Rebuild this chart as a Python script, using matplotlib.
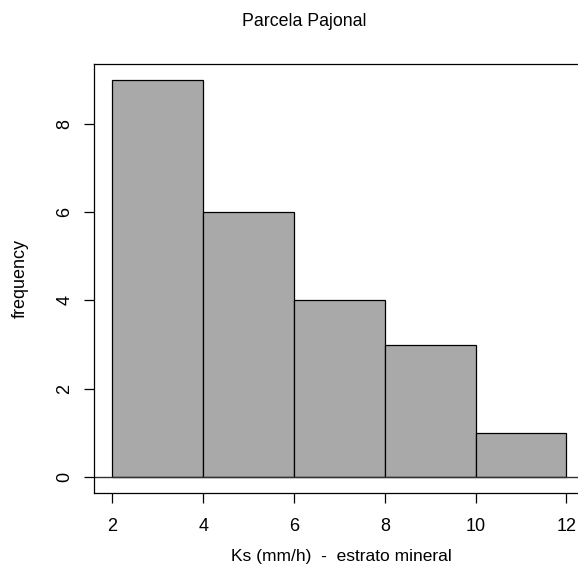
import matplotlib
matplotlib.use("Agg")
from matplotlib import pyplot as plt
import numpy as np

plt.rcParams['font.family'] = ['Liberation Sans', 'DejaVu Sans']

bin_edges = [2, 4, 6, 8, 10, 12]
counts = [9, 6, 4, 3, 1]
x_ticks = [2, 4, 6, 8, 10, 12]
y_ticks = [0, 2, 4, 6, 8]

W, H = 578, 568
fig = plt.figure(figsize=(W / 100, H / 100), dpi=100)
ax = fig.add_axes([94.3 / W, (H - 492.7) / H, 490.3 / W, 428.7 / H])

edges = np.array(bin_edges)
ax.bar(edges[:-1], counts, width=np.diff(edges), align='edge',
       color='#a9a9a9', edgecolor='black', linewidth=0.9)
ax.axhline(0, color='#333333', linewidth=1.0)

ax.set_xlim(1.6, 12.4)
ax.set_ylim(-0.36, 9.36)
ax.set_xticks(x_ticks)
ax.set_yticks(y_ticks)
ax.tick_params(length=7.5, width=0.9, labelsize=13)
ax.tick_params(axis='x', pad=11)
ax.tick_params(axis='y', pad=7.5)
for lab in ax.get_yticklabels():
    lab.set_rotation(90)
    lab.set_va('center')
for s in ax.spines.values():
    s.set_linewidth(0.9)

fig.text(304 / W, 1 - 22 / H, 'Parcela Pajonal', ha='center', va='center', fontsize=12.8)
fig.text(341 / W, 1 - 557 / H, 'Ks (mm/h)  -  estrato mineral', ha='center', va='center', fontsize=12.5)
fig.text(20 / W, 1 - 278 / H, 'frequency', ha='center', va='center', rotation=90, fontsize=13)

fig.savefig('out.png', dpi=100)
